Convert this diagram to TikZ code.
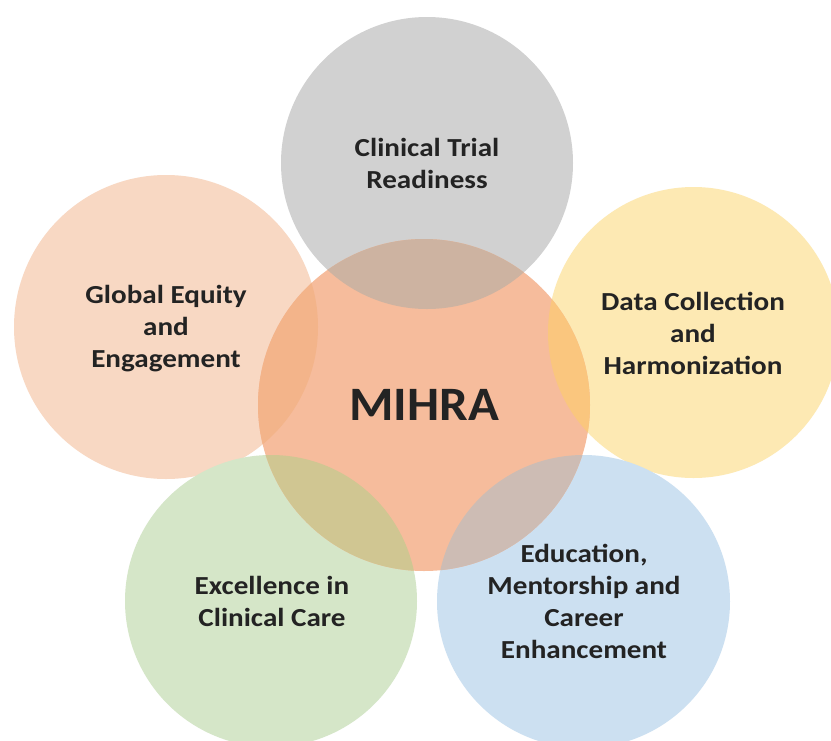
\documentclass[tikz,border=0pt]{standalone}
\usepackage{fontspec}
\setmainfont{Carlito}[FakeStretch=1.12]
\newfontfamily\bigfont{Carlito}[FakeStretch=1.06]
\definecolor{cgray}{HTML}{D1D1D1}
\definecolor{cleft}{HTML}{F8D8C3}
\definecolor{cyellow}{HTML}{FDE9B3}
\definecolor{cgreen}{HTML}{D5E6C8}
\definecolor{cblue}{HTML}{CCE0F1}
\definecolor{ccenter}{HTML}{F6BC9C}
\definecolor{ogray}{HTML}{CDB3A1}
\definecolor{oleft}{HTML}{F3B48A}
\definecolor{oyellow}{HTML}{FAC67E}
\definecolor{ogreen}{HTML}{D0C692}
\definecolor{oblue}{HTML}{CDBCB4}
\definecolor{txt}{HTML}{232323}
\tikzset{
  lbl/.style={align=center, text=txt, font=\bfseries\fontsize{26}{32}\selectfont, inner sep=0pt},
  bigl/.style={text=txt, font=\bigfont\bfseries\fontsize{48}{56}\selectfont, inner sep=0pt}
}
\begin{document}
\begin{tikzpicture}[x=1pt,y=-1pt]
\useasboundingbox (0,0) rectangle (831,740);
\clip (0,0) rectangle (831,740);
\fill[white] (0,0) rectangle (831,740);
\coordinate (pg) at (427,163);
\coordinate (pl) at (166,327);
\coordinate (py) at (693.5,332.5);
\coordinate (pgr) at (271,601);
\coordinate (pb) at (583.5,601.5);
\coordinate (pc) at (424,405);
% outer circles
\fill[cgray] (pg) circle (146);
\fill[cleft] (pl) circle (152);
\fill[cyellow] (py) circle (145.5);
\fill[cgreen] (pgr) circle (146);
\fill[cblue] (pb) circle (146.5);
% centre circle
\fill[ccenter] (pc) circle (166);
% overlaps with the centre
\begin{scope}
  \clip (pc) circle (166);
  \fill[ogray] (pg) circle (146);
  \fill[oleft] (pl) circle (152);
  \fill[oyellow] (py) circle (145.5);
  \fill[ogreen] (pgr) circle (146);
  \fill[oblue] (pb) circle (146.5);
\end{scope}
% labels
\node[lbl] (tg) at (427,163) {Clinical Trial\\Readiness};
\node[lbl] (tl) at (166,329) {Global Equity\\and\\Engagement};
\node[lbl] (ty) at (693,333) {Data Collection\\and\\Harmonization};
\node[lbl] (tgr) at (272,601) {Excellence in\\Clinical Care};
\node[lbl] (tb) at (584,601) {Education,\\Mentorship and\\Career\\Enhancement};
\node[bigl] (tc) at (424,405) {MIHRA};
\end{tikzpicture}
\end{document}
